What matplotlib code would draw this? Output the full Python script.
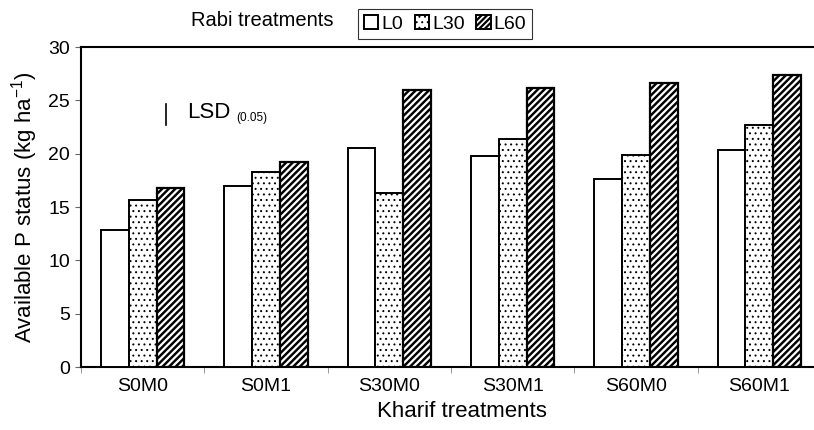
import matplotlib
matplotlib.use("Agg")
import matplotlib.pyplot as plt
import numpy as np
from matplotlib.collections import LineCollection
from matplotlib.transforms import IdentityTransform
from matplotlib.patches import Patch, Rectangle
from matplotlib.legend_handler import HandlerBase

categories = ["S0M0", "S0M1", "S30M0", "S30M1", "S60M0", "S60M1"]
series_names = ["L0", "L30", "L60"]
L0 = [12.8, 17.0, 20.5, 19.8, 17.6, 20.3]
L30 = [15.7, 18.3, 16.3, 21.4, 19.9, 22.7]
L60 = [16.8, 19.2, 26.0, 26.2, 26.6, 27.4]
yticks = [0, 5, 10, 15, 20, 25, 30]
lsd_value = 2.0
lsd_top = 24.7

plt.rcParams['font.family'] = ['Liberation Sans', 'DejaVu Sans']
plt.rcParams['hatch.linewidth'] = 0.7


def stripe_segments(x0, y0, w, h, period):
    """Diagonal '/' stripes clipped analytically to the rectangle."""
    segs = []
    c = -h
    while c < w:
        t0 = max(0.0, -c)
        t1 = min(h, w - c)
        if t1 > t0:
            segs.append([(x0 + c + t0, y0 + t0), (x0 + c + t1, y0 + t1)])
        c += period
    return segs


class StripeHandler(HandlerBase):
    def create_artists(self, legend, orig_handle, xdescent, ydescent,
                       width, height, fontsize, trans):
        x0, y0 = -xdescent, -ydescent
        fill = Rectangle((x0, y0), width, height, facecolor='white',
                         edgecolor='none', transform=trans)
        lc = LineCollection(stripe_segments(x0, y0, width, height, 4.0),
                            colors='black', linewidths=1.6, transform=trans)
        edge = Rectangle((x0, y0), width, height, fill=False,
                         edgecolor='black', lw=1.4, transform=trans)
        return [fill, lc, edge]


fig = plt.figure(figsize=(8.14, 4.30), dpi=100)
ax = fig.add_axes([81/814, 63/430, 740/814, 320/430])

x = np.arange(len(categories))
w = 0.225

ax.set_xlim(-0.5, len(categories) - 0.5)
ax.set_ylim(0, 30)

b0 = ax.bar(x - w, L0, width=w, facecolor='white', edgecolor='black',
            linewidth=1.4, zorder=3)
b1 = ax.bar(x, L30, width=w, facecolor='white', edgecolor='black',
            linewidth=1.4, hatch='...', zorder=3)
b2 = ax.bar(x + w, L60, width=w, facecolor='white', edgecolor='none',
            linewidth=0, zorder=3)
# thick diagonal stripes inside each L60 bar (display pixels)
period = 6.6
for p in b2.patches:
    bb = p.get_window_extent()
    segs = stripe_segments(bb.x0, bb.y0, bb.x1 - bb.x0, bb.y1 - bb.y0, period)
    lc = LineCollection(segs, colors='black', linewidths=1.75,
                        transform=IdentityTransform(), zorder=3.5)
    ax.add_collection(lc, autolim=False)
ax.bar(x + w, L60, width=w, fill=False, edgecolor='black', linewidth=1.6, zorder=4)

ax.set_xlim(-0.5, len(categories) - 0.5)
ax.set_ylim(0, 30)
ax.set_yticks(yticks)
ax.set_xticks(x)
ax.set_xticklabels(categories)
ax.set_xticks(np.arange(len(categories) + 1) - 0.5, minor=True)
ax.tick_params(axis='x', which='major', length=0, pad=8, labelsize=14)
ax.tick_params(axis='x', which='minor', length=4, color='#888888', direction='out')
ax.tick_params(axis='y', length=4, width=0.8, color='#666666', labelsize=14, pad=4)
for s in ax.spines.values():
    s.set_linewidth(1.5)
ax.spines['right'].set_visible(False)

ax.set_xlabel("Kharif treatments", fontsize=16, labelpad=3)
ax.xaxis.set_label_coords(0.515, -0.105)
ax.set_ylabel("Available P status (kg ha$^{\\mathregular{-1}}$)", fontsize=16, labelpad=6)

# LSD bar
lsd_x = 0.19
ax.plot([lsd_x, lsd_x], [lsd_top - lsd_value, lsd_top], color='black', lw=1.2, zorder=4)
ax.text(lsd_x + 0.17, lsd_top - lsd_value / 2 + 0.2, "LSD", fontsize=16,
        ha='left', va='center')
ax.text(lsd_x + 0.57, lsd_top - lsd_value / 2 - 0.4, "(0.05)", fontsize=8.5,
        ha='left', va='center')

h0 = Patch(facecolor='white', edgecolor='black', linewidth=1.4)
h1 = Patch(facecolor='white', edgecolor='black', linewidth=1.4, hatch='...')
h2 = Patch(facecolor='white', edgecolor='black', linewidth=1.4)
leg = fig.legend(handles=[h0, h1, h2], labels=series_names, loc='center',
                 bbox_to_anchor=(445/814, 1 - 24/430), ncol=3, frameon=True,
                 fancybox=False, edgecolor='black', fontsize=14,
                 handlelength=0.75, handleheight=0.75, handletextpad=0.15,
                 columnspacing=0.6, borderpad=0.3, borderaxespad=0,
                 handler_map={h2: StripeHandler()})
leg.get_frame().set_linewidth(0.8)
fig.text(262/814, 1 - 21/430, "Rabi treatments", fontsize=14.5, ha='center', va='center')

fig.savefig("out.png", dpi=100)
